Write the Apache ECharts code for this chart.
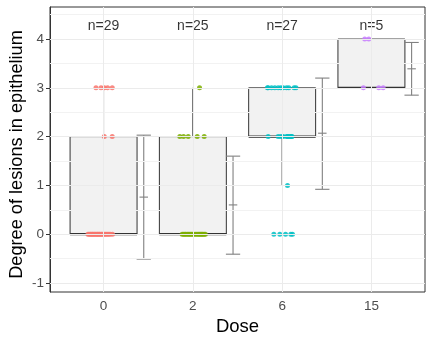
<!DOCTYPE html>
<html>
<head>
<meta charset="utf-8">
<script src="https://cdn.jsdelivr.net/npm/echarts@6/dist/echarts.min.js"></script>
<style>html,body{margin:0;padding:0;background:#fff}#c{width:433px;height:344px}</style>
</head>
<body>
<div id="c"></div>
<script>
// ---- data ----
var doses = ['0', '2', '6', '15'];
var nLabels = ['n=29', 'n=25', 'n=27', 'n=5'];
// box stats: [whiskerLow, Q1, median, Q3, whiskerHigh]
var boxStats = [
  [0, 0, 0, 2, 3],
  [0, 0, 0, 2, 3],
  [1, 2, 2, 3, 3],
  [3, 3, 3, 4, 4]
];
// mean and +/- SD
var meanVals = [0.76, 0.60, 2.07, 3.39];
var lowerVals = [-0.51, -0.41, 0.92, 2.85];
var upperVals = [2.03, 1.60, 3.20, 3.93];
// jittered points: values and horizontal jitter (category units)
var pts0Val = [3,3,3,3,3, 2,2, 0,0,0,0,0,0,0,0,0,0,0,0,0,0,0,0,0,0,0,0,0,0];
var pts0Jit = [-0.085,-0.029,0.008,0.045,0.097, 0.008,0.097,
  -0.175,-0.162,-0.148,-0.139,-0.126,-0.118,-0.104,-0.095,-0.083,-0.071,-0.062,-0.05,-0.041,-0.028,-0.017,-0.004,0.012,0.026,0.041,0.058,0.074,0.1];
var pts2Val = [3, 2,2,2,2,2, 0,0,0,0,0,0,0,0,0,0,0,0,0,0,0,0,0,0,0];
var pts2Jit = [0.075, -0.146,-0.104,-0.052,0.049,0.127,
  -0.12,-0.105,-0.09,-0.078,-0.062,-0.047,-0.033,-0.02,-0.006,0.01,0.028,0.045,0.06,0.074,0.088,0.1,0.112,0.126,0.14];
var pts6Val = [3,3,3,3,3,3,3,3,3,3,3, 2,2,2,2,2,2,2,2,2,2, 1, 0,0,0,0,0];
var pts6Jit = [-0.165,-0.157,-0.119,-0.082,-0.045,-0.015,0.011,0.049,0.075,0.134,0.155,
  -0.157,-0.045,-0.015,0.011,0.049,0.062,0.075,0.09,0.105,0.11,
  0.06, -0.093,-0.026,0.038,0.097,0.116];
var pts15Val = [4,4, 3,3,3];
var pts15Jit = [-0.075,-0.03, -0.09,0.082,0.131];
var yMajor = [-1, 0, 1, 2, 3, 4];
var yMinor = [-0.5, 0.5, 1.5, 2.5, 3.5, 4.5];
var yMin = -1.185, yMax = 4.657;
var nLabelY = 4.26;

var colors = ['#F8766D', '#7CAE00', '#00BFC4', '#C77CFF'];
var ptsVal = [pts0Val, pts2Val, pts6Val, pts15Val];
var ptsJit = [pts0Jit, pts2Jit, pts6Jit, pts15Jit];
var xPos = doses.map(function (d, i) { return i + 1; });

var FONT = 'Liberation Sans, Arial, sans-serif';
var BOX_W = 0.75, EB_OFF = 0.45, CAP_W = 0.16, MEAN_W = 0.095;

var chart = echarts.init(document.getElementById('c'), null, {renderer: 'canvas'});

var boxData = boxStats.map(function (b, i) { return [xPos[i]].concat(b); });
var ebData = meanVals.map(function (m, i) { return [xPos[i] + EB_OFF, lowerVals[i], m, upperVals[i]]; });

var series = [];
// grid lines (drawn first)
series.push({
  type: 'line', data: [], silent: true, z: 0,
  markLine: {
    silent: true, symbol: 'none', animation: false,
    label: {show: false},
    lineStyle: {color: '#ebebeb', width: 1, type: 'solid'},
    emphasis: {disabled: true},
    data: yMinor.map(function (v) { return {yAxis: v, lineStyle: {color: '#f2f2f2', width: 1}}; })
      .concat(yMajor.map(function (v) { return {yAxis: v}; }))
      .concat(xPos.map(function (v) { return {xAxis: v}; }))
  }
});
// boxes
series.push({
  type: 'custom', z: 2, silent: true,
  data: boxData,
  renderItem: function (params, api) {
    var x = api.value(0), lo = api.value(1), q1 = api.value(2), md = api.value(3), q3 = api.value(4), hi = api.value(5);
    var pL = api.coord([x - BOX_W / 2, q3]);
    var pR = api.coord([x + BOX_W / 2, q1]);
    var pc = api.coord([x, md]);
    var pHi = api.coord([x, hi]);
    var pLo = api.coord([x, lo]);
    var pQ3 = api.coord([x, q3]);
    var pQ1 = api.coord([x, q1]);
    var children = [];
    children.push({type: 'line', shape: {x1: pc[0], y1: pQ3[1], x2: pc[0], y2: pHi[1]}, style: {stroke: '#333', lineWidth: 1}});
    children.push({type: 'line', shape: {x1: pc[0], y1: pQ1[1], x2: pc[0], y2: pLo[1]}, style: {stroke: '#333', lineWidth: 1}});
    children.push({type: 'rect', shape: {x: pL[0], y: pL[1], width: pR[0] - pL[0], height: pR[1] - pL[1]}, style: {fill: '#f2f2f2', stroke: '#333', lineWidth: 1}});
    children.push({type: 'line', shape: {x1: pL[0], y1: pc[1], x2: pR[0], y2: pc[1]}, style: {stroke: '#333', lineWidth: 2.2}});
    return {type: 'group', children: children};
  }
});
// error bars
series.push({
  type: 'custom', z: 2, silent: true,
  data: ebData,
  renderItem: function (params, api) {
    var x = api.value(0), lo = api.value(1), m = api.value(2), hi = api.value(3);
    var a = api.coord([x, hi]), b = api.coord([x, lo]), c = api.coord([x, m]);
    var cw = api.size([CAP_W, 0])[0] / 2;
    var mw = api.size([MEAN_W, 0])[0] / 2;
    var st = {stroke: '#808080', lineWidth: 1.1};
    return {type: 'group', children: [
      {type: 'line', shape: {x1: a[0], y1: a[1], x2: b[0], y2: b[1]}, style: st},
      {type: 'line', shape: {x1: a[0] - cw, y1: a[1], x2: a[0] + cw, y2: a[1]}, style: st},
      {type: 'line', shape: {x1: b[0] - cw, y1: b[1], x2: b[0] + cw, y2: b[1]}, style: st},
      {type: 'line', shape: {x1: c[0] - mw, y1: c[1], x2: c[0] + mw, y2: c[1]}, style: st}
    ]};
  }
});
// points
ptsVal.forEach(function (vals, i) {
  series.push({
    type: 'scatter', z: 3, silent: true,
    symbol: 'circle', symbolSize: 5,
    itemStyle: {color: colors[i], opacity: 0.85},
    data: vals.map(function (v, k) { return [xPos[i] + ptsJit[i][k], v]; })
  });
});
// n labels
series.push({
  type: 'scatter', z: 4, silent: true, symbolSize: 0,
  data: nLabels.map(function (t, i) { return {value: [xPos[i], nLabelY], name: t}; }),
  label: {show: true, position: 'inside', formatter: function (p) { return p.name; }, color: '#000', fontSize: 14, fontFamily: FONT}
});

chart.setOption({
  animation: false,
  backgroundColor: '#fff',
  grid: {left: 50, right: 8, top: 7, bottom: 52, outerBoundsMode: 'none', containLabel: false,
    show: true, borderColor: '#333', borderWidth: 1, backgroundColor: 'transparent'},
  xAxis: {
    type: 'value', min: 0.4, max: 4.6,
    name: 'Dose', nameLocation: 'middle', nameGap: 25, nameMoveOverlap: false,
    nameTextStyle: {fontSize: 18.5, color: '#000', fontFamily: FONT},
    axisLine: {show: true, lineStyle: {color: '#333'}},
    axisTick: {show: true, length: 4, customValues: xPos, lineStyle: {color: '#333'}},
    axisLabel: {customValues: xPos, margin: 7, fontSize: 13.5, color: '#4d4d4d', fontFamily: FONT,
      formatter: function (v) { return doses[Math.round(v) - 1]; }},
    splitLine: {show: false}
  },
  yAxis: {
    type: 'value', min: yMin, max: yMax,
    name: 'Degree of lesions in epithelium', nameLocation: 'middle', nameGap: 24, nameMoveOverlap: false,
    nameTextStyle: {fontSize: 18.2, color: '#000', fontFamily: FONT, padding: [0, 10, 0, 0]},
    axisLine: {show: true, lineStyle: {color: '#333'}},
    axisTick: {show: true, length: 4, customValues: yMajor, lineStyle: {color: '#333'}},
    axisLabel: {customValues: yMajor, margin: 6, fontSize: 13.5, color: '#4d4d4d', fontFamily: FONT},
    splitLine: {show: false}
  },
  series: series
});
</script>
</body>
</html>
